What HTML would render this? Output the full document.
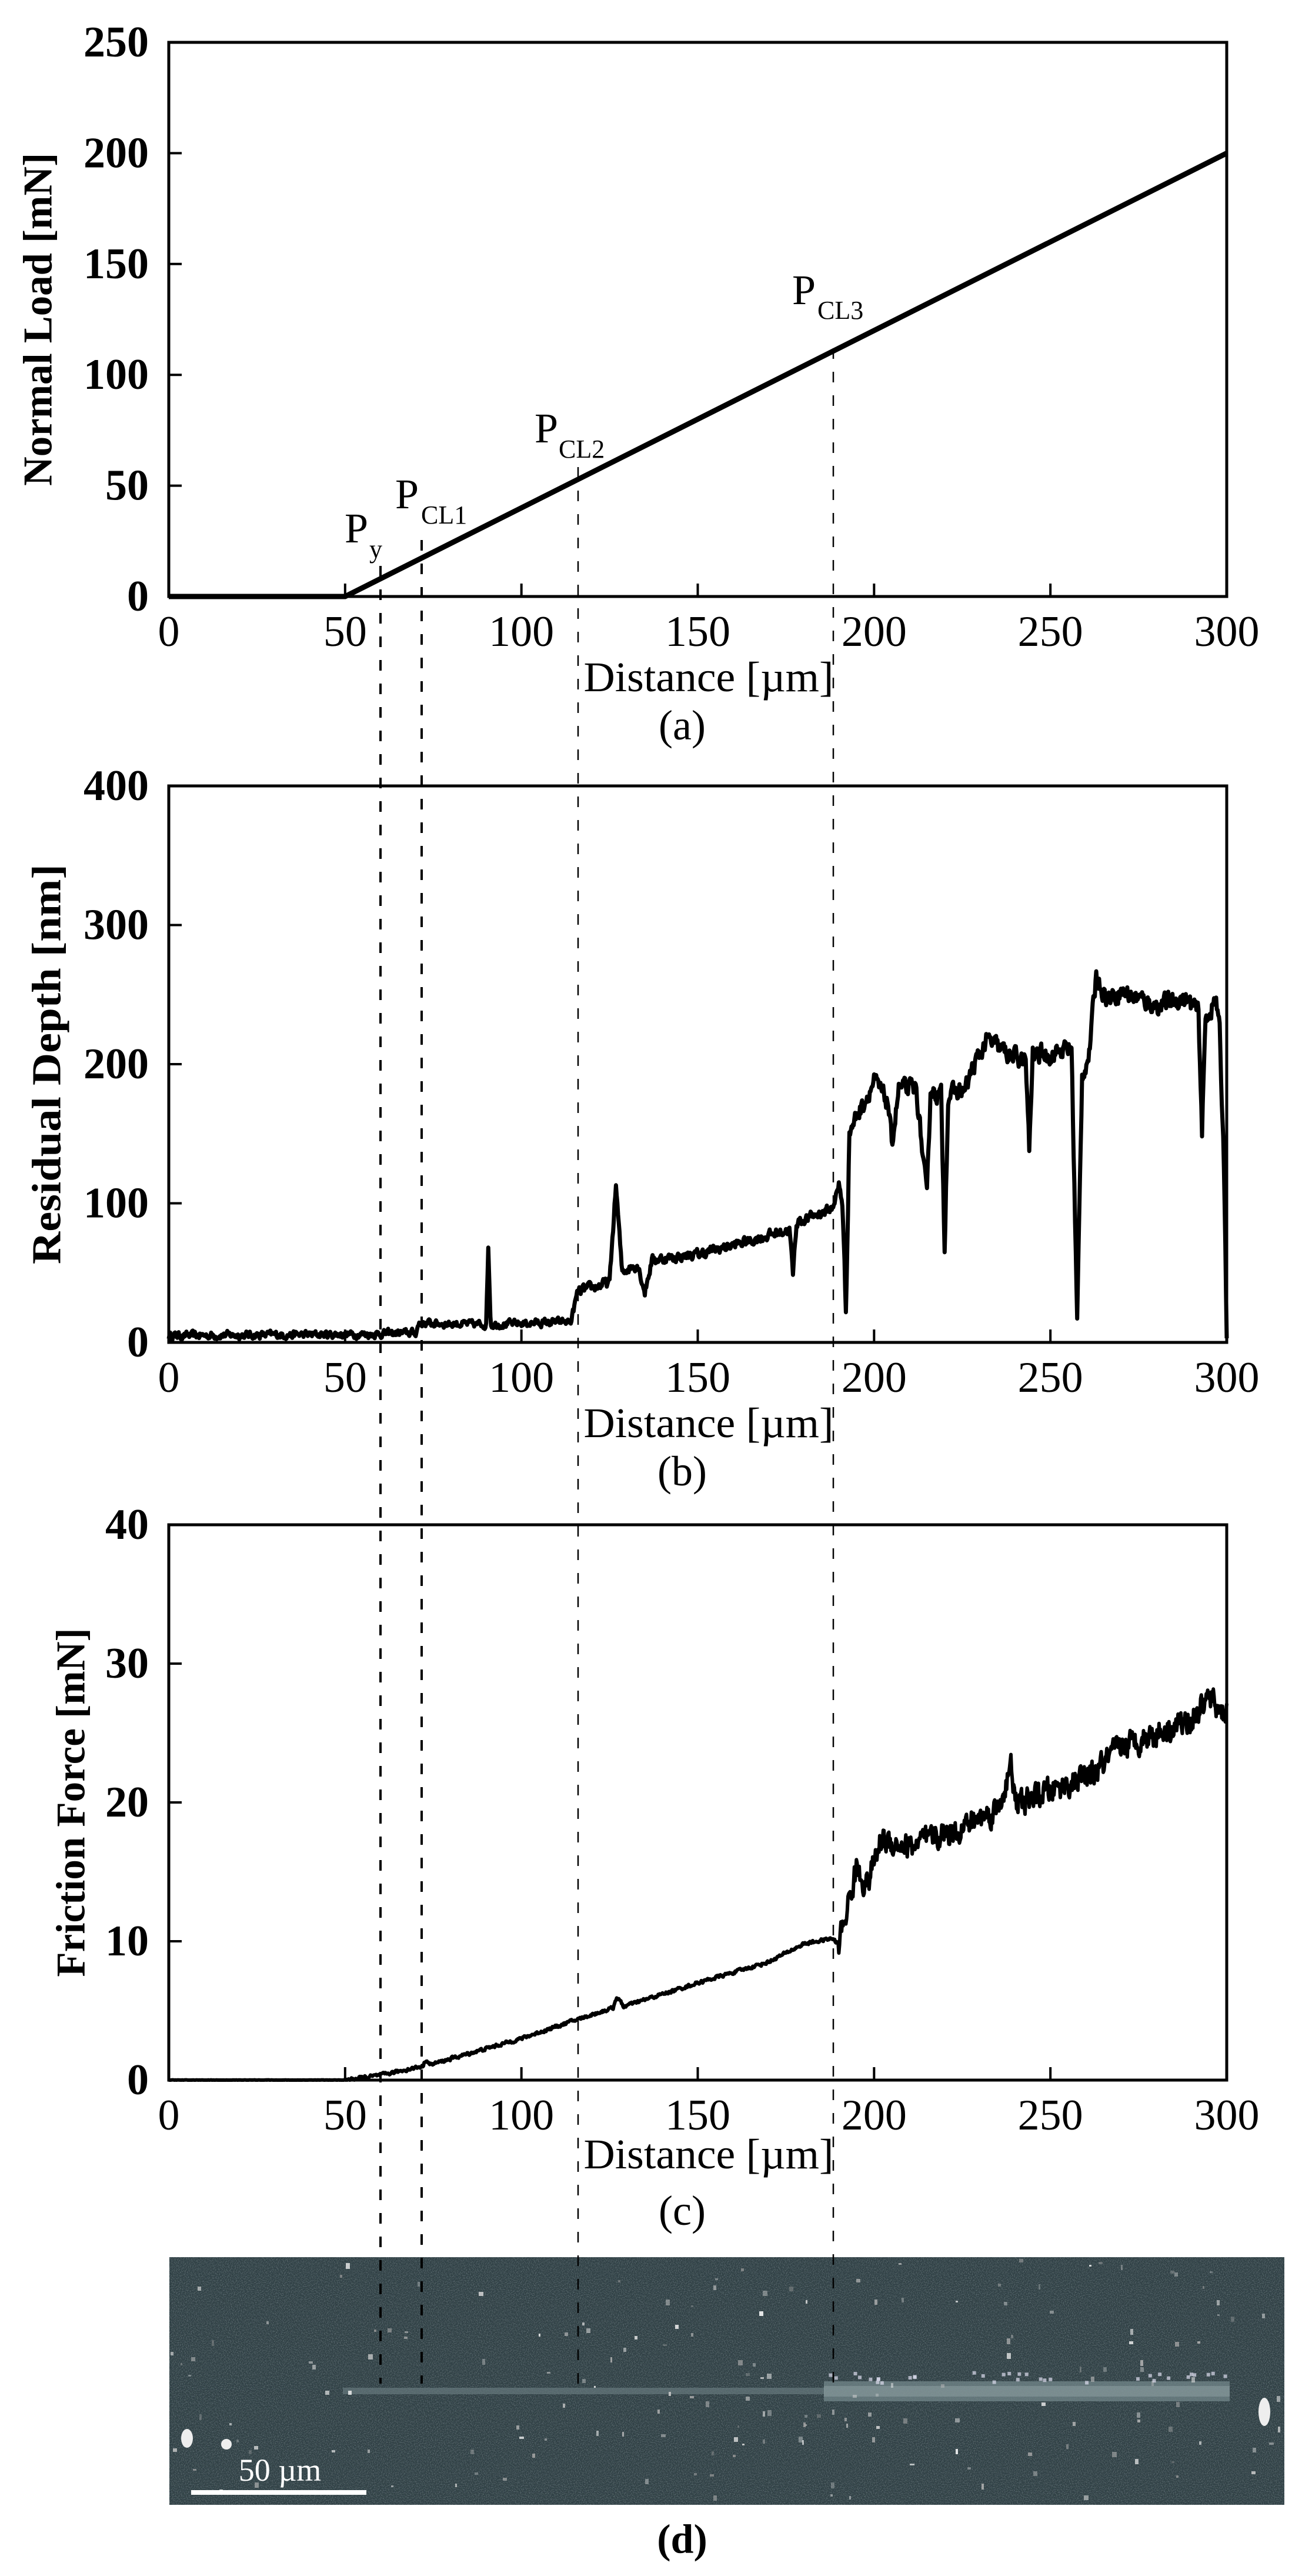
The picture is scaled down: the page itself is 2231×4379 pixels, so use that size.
<!DOCTYPE html>
<html><head><meta charset="utf-8">
<style>
html,body{margin:0;padding:0;background:#fff;}
svg{display:block;}
text{font-family:"Liberation Serif","Times New Roman",serif;fill:#000;}
.tk{font-size:74px;}
.yt{font-size:74px;font-weight:bold;}
.yl{font-size:70px;font-weight:bold;}
.xl{font-size:72px;}
</style></head>
<body>
<svg id="s" width="2231" height="4379" viewBox="0 0 2231 4379" xmlns="http://www.w3.org/2000/svg">
<defs>
<filter id="grain" x="0" y="0" width="100%" height="100%">
<feTurbulence type="fractalNoise" baseFrequency="0.6" numOctaves="2" seed="3"/>
<feColorMatrix type="matrix" values="0 0 0 0 0.7  0 0 0 0 0.8  0 0 0 0 0.82  0 0 0 1.1 -0.45"/>
</filter>
</defs>
<g id="g"></g>
</svg>
<script>
(function(){
var NS="http://www.w3.org/2000/svg",g=document.getElementById('g');
function el(t,a,txt){var e=document.createElementNS(NS,t);for(var k in a)e.setAttribute(k,a[k]);if(txt!==undefined)e.textContent=txt;g.appendChild(e);return e;}
var X0=287,X1=2086;function X(d){return X0+d*(X1-X0)/300;}
var seed=12345;function rnd(){seed=(seed*16807)%2147483647;return (seed-1)/2147483646;}
function interp(k,x){for(var i=1;i<k.length;i++){if(x<=k[i][0]){var a=k[i-1],b=k[i];var t=(x-a[0])/(b[0]-a[0]||1);return a[1]+t*(b[1]-a[1]);}}return k[k.length-1][1];}

function axes(top,bot,ymax,step,label,lx,llen,xlY,dY,cap,capY){
  el('rect',{x:X0,y:top,width:X1-X0,height:bot-top,fill:'none',stroke:'#000','stroke-width':5});
  for(var v=0;v<=300;v+=50){var x=X(v);
    if(v>0&&v<300)el('line',{x1:x,y1:bot,x2:x,y2:bot-22,stroke:'#000','stroke-width':4});
    el('text',{x:x,y:xlY,'text-anchor':'middle','dominant-baseline':'central','class':'tk'},String(v));}
  for(var v=0;v<=ymax;v+=step){var y=bot-(bot-top)*v/ymax;
    if(v>0&&v<ymax)el('line',{x1:X0,y1:y,x2:X0+22,y2:y,stroke:'#000','stroke-width':4});
    el('text',{x:253,y:y,'text-anchor':'end','dominant-baseline':'central','class':'yt'},String(v));}
  var cy=(top+bot)/2;
  var a={x:lx,y:cy,'text-anchor':'middle','dominant-baseline':'central','class':'yl',transform:'rotate(-90 '+lx+' '+cy+')'};
  if(llen){a.textLength=llen;a.lengthAdjust='spacingAndGlyphs';}
  el('text',a,label);
  el('text',{x:1205,y:dY,'text-anchor':'middle','dominant-baseline':'central','class':'xl',textLength:425,lengthAdjust:'spacingAndGlyphs'},'Distance [\u00b5m]');
  el('text',{x:1160,y:capY,'text-anchor':'middle','dominant-baseline':'central','class':'xl'},cap);
}

/* Plot a */
var aT=72,aB=1014;function Ya(v){return aB-(aB-aT)*v/250;}
axes(aT,aB,250,50,'Normal Load [mN]',65,566,1074,1151,'(a)',1233);
el('polyline',{points:X(0)+','+Ya(0)+' '+X(50)+','+Ya(0)+' '+X(300)+','+Ya(200),fill:'none',stroke:'#000','stroke-width':9});
function P(x,y,sub,sx,sy){el('text',{x:x,y:y,style:'font-size:72px'},'P');el('text',{x:sx,y:sy,style:'font-size:44px'},sub);}
P(586,922,'y',628,948);
P(672,864,'CL1',716,890);
P(909,752,'CL2',950,778);
P(1347,517,'CL3',1390,542);

/* Plot b */
var bT=1336,bB=2282;function Yb(v){return bB-(bB-bT)*v/400;}
axes(bT,bB,400,100,'Residual Depth [nm]',80,680,2342,2419,'(b)',2501);
var kb=[[0,4],[55,5],[70,6],[71,13],[90,12],[90.6,68],[91.3,12],[114,14],[116,35],[125,42],[126.8,112],[128.5,50],[133,55],[135,35],[137,58],[150,62],[165,72],[176,80],[177,48],[178,85],[188,95],[190,110],[191,100],[192,20],[193,150],[196,165],[200,185],[204,170],[205,140],[207,180],[212,180],[215,100],[216,180],[219,175],[220,68],[221,175],[226,180],[228,195],[232,215],[238,205],[243,200],[244,135],[245,205],[250,205],[256,210],[257.6,12],[259,190],[261,205],[263,262],[266,245],[270,250],[280,240],[288,245],[292,235],[293,150],[294,230],[297,245],[298,220],[299.3,120],[300,3]];
var pts=[];var prev=0;for(var i=0;i<=1500;i++){var d=i*0.2;var v=interp(kb,d);var amp=d<115?9:(d<190?12:22);var n=(rnd()-0.4)*amp;prev=0.5*prev+0.5*n;v+=prev;if(v<0)v=0;pts.push(X(d).toFixed(1)+','+Yb(v).toFixed(1));}
el('polyline',{points:pts.join(' '),fill:'none',stroke:'#000','stroke-width':7,'stroke-linejoin':'round'});

/* Plot c */
var cT=2592,cB=3536;function Yc(v){return cB-(cB-cT)*v/40;}
axes(cT,cB,40,10,'Friction Force [mN]',121,593,3596,3662,'(c)',3758);
var kc=[[0,0],[50,0],[60,0.35],[72,1.0],[73,1.5],[74,1.1],[100,3],[115,4.3],[126,5.2],[127,6],[129,5.3],[150,7],[170,8.5],[180,9.8],[188,10.2],[190,9.8],[192,12],[195,15.2],[198,14],[202,17.3],[210,16.8],[225,18.2],[235,19.5],[239,22.5],[240,19.8],[250,20.8],[262,22],[270,24],[280,25],[290,26],[295,27.5],[300,26.3]];
pts=[];prev=0;for(var i=0;i<=1500;i++){var d=i*0.2;var v=interp(kc,d);var amp=d<50?0.05:(d<190?0.35:2.8);var n=(rnd()-0.5)*amp;prev=0.4*prev+0.6*n;v+=prev;if(v<0)v=0;pts.push(X(d).toFixed(1)+','+Yc(v).toFixed(1));}
el('polyline',{points:pts.join(' '),fill:'none',stroke:'#000','stroke-width':6,'stroke-linejoin':'round'});

/* SEM image */
var sT=3837,sB=4258,sL=288,sR=2184;
el('rect',{x:sL,y:sT,width:sR-sL,height:sB-sT,fill:'#2f3f44'});
el('rect',{x:sL,y:sT,width:sR-sL,height:sB-sT,filter:'url(#grain)',opacity:0.6});
el('rect',{x:583,y:4059,width:820,height:11,fill:'#66797d',opacity:0.7});
el('rect',{x:1401,y:4048,width:690,height:34,fill:'#6f8387',opacity:0.8});
el('rect',{x:1401,y:4056,width:690,height:18,fill:'#8fa1a4',opacity:0.5});
for(var i=0;i<170;i++){var x=sL+rnd()*(sR-sL-10),y=sT+rnd()*(sB-sT-8);var w=3+rnd()*5,h=3+rnd()*7;var c=Math.floor(150+rnd()*105);
  el('rect',{x:x.toFixed(0),y:y.toFixed(0),width:w.toFixed(0),height:h.toFixed(0),fill:'rgb('+c+','+c+','+c+')',opacity:(0.3+rnd()*0.6).toFixed(2)});}
for(var i=0;i<35;i++){var x=1400+rnd()*700,y=4030+rnd()*18;el('rect',{x:x,y:y,width:6,height:6,fill:'#dde',opacity:0.7});}
el('ellipse',{cx:2150,cy:4100,rx:10,ry:24,fill:'#eee'});
el('ellipse',{cx:318,cy:4145,rx:10,ry:16,fill:'#eee'});
el('ellipse',{cx:385,cy:4155,rx:9,ry:9,fill:'#eee'});
el('rect',{x:325,y:4233,width:298,height:8,fill:'#fff'});
el('text',{x:476,y:4217,'text-anchor':'middle',style:'font-size:54px;fill:#fff'},'50 \u00b5m');
el('text',{x:1160,y:4317,'text-anchor':'middle','dominant-baseline':'central',style:'font-size:70px;font-weight:bold'},'(d)');

/* Dashed guide lines */
var dl=[[647,962,4],[717,918,4],[983,794,2.5],[1417,592,2.5]];
dl.forEach(function(d){el('line',{x1:d[0],y1:d[1],x2:d[0],y2:4052,stroke:'#000','stroke-width':d[2],'stroke-dasharray':'18 22'});});
})();
</script>
</body></html>
